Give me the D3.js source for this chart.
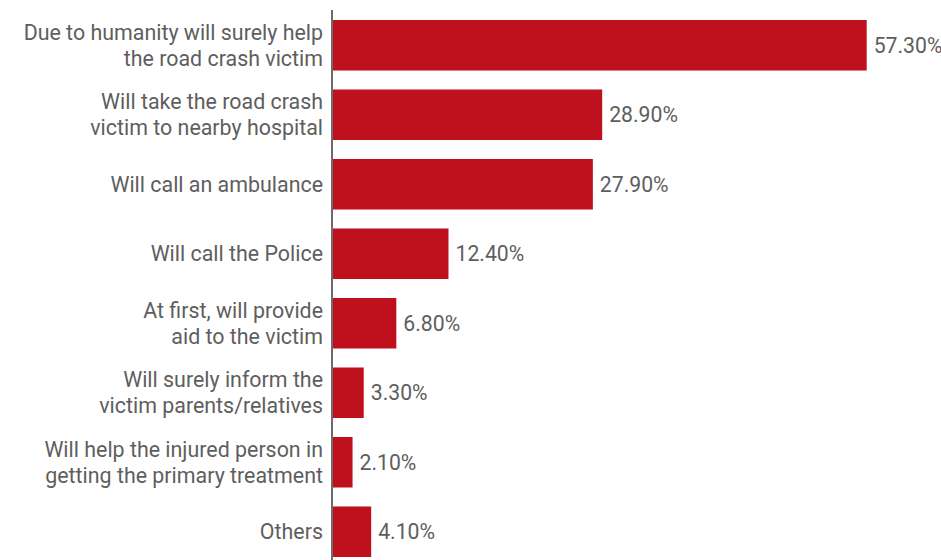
<!DOCTYPE html>
<html>
<head>
<meta charset="utf-8">
<script src="https://cdn.jsdelivr.net/npm/d3@7"></script>
<style>
  html, body { margin: 0; padding: 0; background: #ffffff; }
  svg { display: block; }
  text { font-family: Roboto, "Noto Sans", sans-serif; fill: #5e5e5e; }
</style>
</head>
<body>
<svg id="chart" width="941" height="560"></svg>
<script>
// Responses: what a person would do on seeing a road crash victim
const categories = [
  ["Due to humanity will surely help", "the road crash victim"],
  ["Will take the road crash", "victim to nearby hospital"],
  ["Will call an ambulance"],
  ["Will call the Police"],
  ["At first, will provide", "aid to the victim"],
  ["Will surely inform the", "victim parents/relatives"],
  ["Will help the injured person in", "getting the primary treatment"],
  ["Others"]
];
const values = [57.3, 28.9, 27.9, 12.4, 6.8, 3.3, 2.1, 4.1];
const valueLabels = ["57.30%", "28.90%", "27.90%", "12.40%", "6.80%", "3.30%", "2.10%", "4.10%"];

const svg = d3.select("#chart");
const axisX = 333;

const x = d3.scaleLinear().domain([0, 57.3]).range([axisX, 866.7]);
const y = d3.scaleBand()
  .domain(d3.range(values.length))
  .range([20, 557])
  .paddingInner(0.273)
  .paddingOuter(0);

// Bars
svg.append("g").selectAll("rect")
  .data(values)
  .join("rect")
  .attr("x", x(0))
  .attr("y", (d, i) => y(i))
  .attr("width", d => x(d) - x(0))
  .attr("height", y.bandwidth())
  .attr("fill", "#bf111d");

// Value labels
svg.append("g").selectAll("text")
  .data(values)
  .join("text")
  .attr("x", d => x(d) + 7)
  .attr("y", (d, i) => y(i) + y.bandwidth() / 2)
  .attr("dy", "0.35em")
  .attr("font-size", 21.2)
  .text((d, i) => valueLabels[i]);

// Category labels (multi-line, right aligned)
const lineH = 25.7;
const catG = svg.append("g");
categories.forEach((lines, i) => {
  const cy = y(i) + y.bandwidth() / 2;
  const t = catG.append("text")
    .attr("text-anchor", "end")
    .attr("font-size", 21.4);
  lines.forEach((ln, j) => {
    t.append("tspan")
      .attr("x", axisX - 10)
      .attr("y", cy + (j - (lines.length - 1) / 2) * lineH)
      .attr("dy", "0.35em")
      .text(ln);
  });
});

// Category axis line
svg.append("line")
  .attr("x1", axisX - 1).attr("x2", axisX - 1)
  .attr("y1", 10).attr("y2", 560)
  .attr("stroke", "#6b6b6b")
  .attr("stroke-width", 2);
</script>
</body>
</html>
